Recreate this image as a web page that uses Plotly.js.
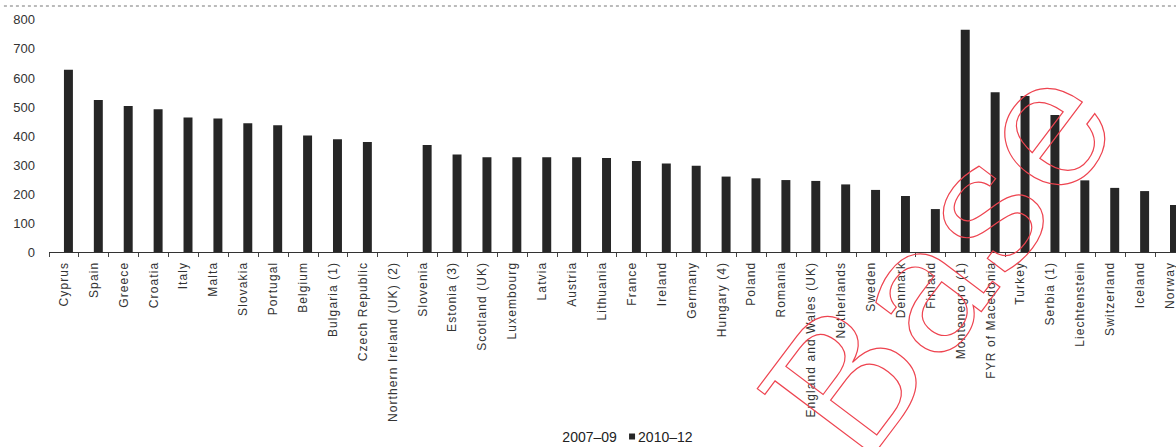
<!DOCTYPE html>
<html>
<head>
<meta charset="utf-8">
<script src="https://cdn.plot.ly/plotly-3.0.1.min.js"></script>
<style>html,body{margin:0;padding:0;background:#fff;}#chart{width:1176px;height:447px;}</style>
</head>
<body>
<div id="chart"></div>
<script>
const categories = ["Cyprus","Spain","Greece","Croatia","Italy","Malta","Slovakia","Portugal","Belgium","Bulgaria (1)","Czech Republic","Northern Ireland (UK) (2)","Slovenia","Estonia (3)","Scotland (UK)","Luxembourg","Latvia","Austria","Lithuania","France","Ireland","Germany","Hungary (4)","Poland","Romania","England and Wales (UK)","Netherlands","Sweden","Denmark","Finland","Montenegro (1)","FYR of Macedonia","Turkey","Serbia (1)","Liechtenstein","Switzerland","Iceland","Norway"];
const values2007_09 = categories.map(() => null);
const values2010_12 = [628,524,503,492,464,460,444,437,402,389,379,null,369,336,327,327,327,327,324,314,305,297,260,254,248,245,233,214,193,148,766,551,538,472,247,221,210,162];
const yTicks = [0,100,200,300,400,500,600,700,800];
const seriesNames = ["2007\u201309","2010\u201312"];

const traces = [
  {type:'bar', name:seriesNames[0], x:categories, y:values2007_09, marker:{color:'#ffffff'}, hoverinfo:'skip'},
  {type:'bar', name:seriesNames[1], x:categories, y:values2010_12, marker:{color:'#262626', line:{width:0}}}
];

const layout = {
  width:1176, height:447,
  margin:{l:49, r:0, t:6, b:195, autoexpand:false},
  paper_bgcolor:'#fff', plot_bgcolor:'#fff',
  barmode:'group', bargap:0.4, bargroupgap:0,
  font:{family:'"Liberation Sans", Arial, sans-serif', color:'#333'},
  xaxis:{range:[-0.5,37.2], tickangle:-90, ticks:'outside', ticklen:4, tickcolor:'#444',
         tickson:'boundaries', showline:true, linecolor:'#333', linewidth:1,
         ticklabelstandoff:4,
         tickfont:{size:12, color:'#333'}, showgrid:false, automargin:false},
  yaxis:{range:[0,848], tickvals:yTicks, ticktext:yTicks.map(String), showgrid:false,
         zeroline:false, showline:false, ticks:'', ticklabelstandoff:13,
         tickfont:{size:13, color:'#333'}, automargin:false},
  showlegend:true,
  legend:{orientation:'h', x:0.42, xanchor:'left', y:(252-437)/246, yanchor:'middle',
          font:{size:14, color:'#222'}, bgcolor:'rgba(0,0,0,0)', traceorder:'normal'},
  shapes:[{type:'line', xref:'paper', yref:'paper', x0:-0.04, x1:1, y0:1, y1:1,
           line:{color:'#777', width:1, dash:'dot'}}],
  annotations:[{text:'Base', xref:'paper', yref:'paper', x:(940-49)/1127, y:(252-262)/246,
                xanchor:'center', yanchor:'middle', showarrow:false, textangle:-53,
                font:{family:'"DejaVu Serif", "Liberation Serif", serif', size:182, color:'#e8424a'}}]
};

Plotly.newPlot('chart', traces, layout, {staticPlot:true}).then(function(){
  document.querySelectorAll('.annotation-text').forEach(function(t){
    t.style.fill = 'none';
    t.style.stroke = '#ee4450';
    t.style.strokeWidth = '1.2px';
  });
  document.querySelectorAll('.xtick text').forEach(function(t){
    t.style.letterSpacing = '1.1px';
  });
  const items = document.querySelectorAll('.legend .traces');
  if (items.length > 1) {
    const it = items[1];
    it.querySelectorAll('.legendpoints path').forEach(function(p){
      p.setAttribute('transform', 'translate(10,0) scale(0.5)');
    });
    const txt = it.querySelector('.legendtext');
    if (txt) txt.setAttribute('x', '16');
  }
});
</script>
</body>
</html>
